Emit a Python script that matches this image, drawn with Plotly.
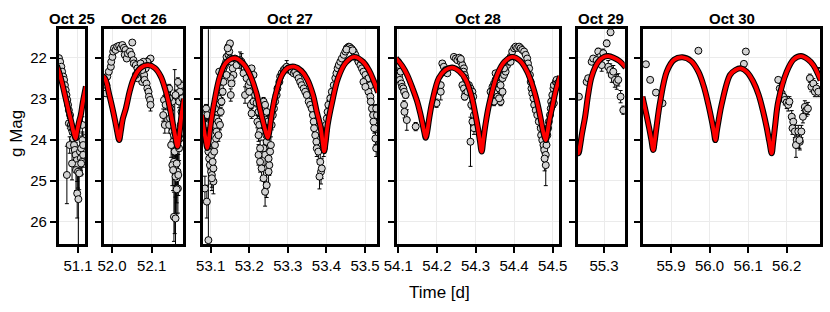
import plotly.graph_objects as go

# ---------------- data ----------------
panel_titles = ["Oct 25", "Oct 26", "Oct 27", "Oct 28", "Oct 29", "Oct 30"]

# Oct 25
t_oct25 = [51.052, 51.055, 51.058, 51.060, 51.063, 51.065, 51.067, 51.069, 51.071, 51.073,
           51.075, 51.077, 51.080, 51.077, 51.082, 51.083, 51.086, 51.079, 51.088, 51.090,
           51.092, 51.094, 51.097, 51.098, 51.095, 51.100, 51.103, 51.105, 51.108, 51.111,
           51.107, 51.110, 51.098, 51.101, 51.072, 51.085, 51.108, 51.111, 51.113, 51.113]
mag_oct25 = [22.01, 22.10, 22.22, 22.34, 22.46, 22.54, 22.67, 22.79, 22.91, 23.03,
             23.15, 23.28, 23.40, 23.60, 23.64, 23.72, 23.80, 24.13, 23.97, 24.13,
             24.25, 24.37, 24.50, 24.62, 24.74, 24.78, 24.82, 24.29, 24.21, 24.01,
             24.45, 24.54, 25.31, 25.45, 24.86, 24.58, 24.58, 23.64, 24.13, 24.37]
err_oct25 = [0.05, 0.05, 0.05, 0.05, 0.06, 0.06, 0.06, 0.07, 0.07, 0.08,
             0.08, 0.10, 0.10, 0.12, 0.12, 0.15, 0.15, 0.20, 0.20, 0.20,
             0.25, 0.30, 0.30, 0.40, 0.50, 0.40, 0.40, 0.30, 0.30, 0.20,
             0.30, 0.30, 0.60, 1.20, 0.70, 0.40, 0.30, 0.20, 0.25, 0.30]

# Oct 26
t_oct26 = [51.985, 51.986, 51.988, 51.992, 51.997, 51.998, 52.001, 52.003, 52.005, 52.009,
           52.013, 52.018, 52.022, 52.026, 52.030, 52.034, 52.032, 52.037, 52.040, 52.045,
           52.051, 52.049, 52.054, 52.055, 52.060, 52.064, 52.068, 52.071, 52.074, 52.076,
           52.081, 52.082, 52.085, 52.087, 52.089, 52.092, 52.093, 52.096, 52.097, 52.093,
           52.097, 52.089, 52.079, 52.072, 52.064, 52.060, 52.076,
           52.131, 52.135, 52.129, 52.133, 52.139, 52.144, 52.148, 52.146, 52.152, 52.156,
           52.154, 52.158, 52.160, 52.165, 52.163, 52.166, 52.169, 52.171, 52.173, 52.175,
           52.169, 52.171, 52.173, 52.166, 52.160, 52.152, 52.144, 52.149, 52.156, 52.152,
           52.154, 52.160, 52.156, 52.160, 52.144, 52.177, 52.163, 52.167, 52.163]
mag_oct26 = [22.87, 22.67, 22.46, 22.34, 22.22, 22.10, 21.98, 21.85, 21.77, 21.81,
             21.73, 21.71, 21.77, 21.69, 21.76, 21.81, 21.93, 22.02, 21.90, 21.85,
             21.63, 21.93, 22.06, 22.14, 22.18, 22.26, 22.34, 22.42, 22.50, 22.59,
             22.42, 22.54, 22.26, 22.63, 22.75, 22.83, 22.95, 23.03, 23.15, 22.06,
             22.02, 22.10, 22.10, 22.14, 22.50, 22.42, 22.30,
             23.03, 23.15, 23.40, 23.64, 22.91, 22.75, 23.24, 23.48, 23.80, 23.89,
             24.05, 24.29, 24.62, 24.78, 24.94, 25.19, 24.21, 23.97, 23.64, 23.32,
             23.07, 22.83, 22.67, 22.59, 22.91, 23.07, 23.64, 24.13, 24.54, 24.62,
             24.74, 24.90, 25.88, 25.92, 22.99, 22.99, 24.58, 24.86, 25.21]
err_oct26 = [0.06, 0.05, 0.05, 0.05, 0.05, 0.05, 0.05, 0.05, 0.05, 0.05,
             0.05, 0.05, 0.05, 0.05, 0.05, 0.05, 0.05, 0.05, 0.05, 0.05,
             0.05, 0.05, 0.05, 0.05, 0.05, 0.05, 0.05, 0.05, 0.06, 0.06,
             0.06, 0.06, 0.05, 0.06, 0.07, 0.07, 0.08, 0.10, 0.15, 0.05,
             0.05, 0.05, 0.05, 0.05, 0.05, 0.05, 0.05,
             0.10, 0.12, 0.15, 0.20, 0.10, 0.10, 0.15, 0.20, 0.25, 0.25,
             0.30, 2.00, 0.50, 0.50, 0.60, 0.60, 0.30, 0.30, 0.25, 0.20,
             0.15, 0.12, 0.10, 0.10, 0.12, 0.15, 0.20, 0.30, 0.40, 0.50,
             0.50, 0.50, 0.60, 0.80, 0.10, 0.10, 0.40, 0.50, 0.60]

# Oct 27
t_oct27 = [53.085, 53.090, 53.094, 53.085, 53.088, 53.090, 53.091, 53.094, 53.096, 53.098,
           53.101, 53.103, 53.107, 53.105, 53.103, 53.109, 53.111, 53.114, 53.115, 53.111,
           53.114, 53.117, 53.115, 53.120, 53.122, 53.124, 53.126, 53.128, 53.122, 53.133,
           53.137, 53.140, 53.141, 53.146, 53.148, 53.150, 53.154, 53.157, 53.159, 53.152,
           53.154, 53.152, 53.146, 53.150, 53.144, 53.141, 53.133, 53.131, 53.128, 53.126,
           53.120, 53.107, 53.103, 53.088, 53.091, 53.111, 53.120, 53.124,
           53.163, 53.167, 53.176, 53.180, 53.185, 53.189, 53.193, 53.198, 53.202, 53.206,
           53.211, 53.200, 53.204, 53.206, 53.211, 53.215, 53.219, 53.224, 53.221, 53.226,
           53.228, 53.224, 53.232, 53.237, 53.241, 53.245, 53.248, 53.250, 53.244, 53.245,
           53.237, 53.241, 53.228, 53.232, 53.237, 53.241, 53.245, 53.250, 53.252, 53.254,
           53.256, 53.250, 53.228, 53.224,
           53.258, 53.261, 53.264, 53.267, 53.271, 53.273, 53.278, 53.280, 53.284, 53.289,
           53.293, 53.297, 53.302, 53.306, 53.310, 53.315, 53.319, 53.323, 53.328, 53.332,
           53.336, 53.341, 53.345, 53.349, 53.354, 53.358, 53.362, 53.365, 53.367, 53.368,
           53.371, 53.374, 53.375, 53.379, 53.384, 53.386, 53.382, 53.388, 53.393, 53.394,
           53.397, 53.399, 53.401, 53.403, 53.405, 53.410, 53.414, 53.419, 53.423, 53.426,
           53.429, 53.432, 53.436, 53.440, 53.445, 53.449, 53.453, 53.458, 53.462, 53.466,
           53.471, 53.475, 53.479, 53.483, 53.488, 53.492, 53.496, 53.501, 53.503, 53.505,
           53.509, 53.514, 53.515, 53.518, 53.521, 53.522, 53.524, 53.527, 53.529, 53.531,
           53.529, 53.514, 53.509, 53.496, 53.501, 53.456, 53.460, 53.464, 53.452, 53.468]
mag_oct27 = [25.19, 25.51, 26.45, 23.40, 23.64, 23.80, 24.05, 24.29, 24.46, 24.62,
             24.78, 24.86, 24.70, 24.54, 24.37, 24.29, 24.13, 23.97, 23.80, 23.64,
             23.48, 23.32, 23.15, 22.99, 22.83, 22.71, 22.59, 22.46, 22.34, 22.26,
             22.18, 22.10, 21.98, 21.93, 21.85, 22.02, 22.10, 22.26, 22.42, 22.50,
             22.63, 22.91, 21.73, 21.65, 21.77, 22.42, 22.59, 22.83, 23.07, 23.32,
             23.56, 25.02, 24.94, 23.24, 23.40, 23.24, 23.89, 23.64,
             22.02, 22.18, 22.06, 22.10, 22.38, 22.91, 22.50, 22.67, 22.59, 22.26,
             22.42, 22.83, 23.15, 23.36, 23.07, 22.91, 23.10, 23.32, 23.56, 23.64,
             23.80, 23.89, 23.24, 23.07, 23.15, 23.32, 23.56, 23.72, 23.89, 24.05,
             24.21, 24.37, 24.54, 24.70, 24.94, 25.27, 25.11, 24.78, 24.62, 24.29,
             24.13, 24.46, 24.21, 24.37,
             23.64, 23.40, 23.24, 23.07, 22.91, 22.75, 22.59, 22.46, 22.38, 22.30,
             22.26, 22.22, 22.26, 22.30, 22.34, 22.38, 22.34, 22.42, 22.50, 22.59,
             22.67, 22.75, 22.83, 22.91, 23.07, 23.15, 23.24, 23.40, 23.56, 23.72,
             23.89, 24.05, 24.21, 24.29, 24.54, 24.78, 24.90, 24.70, 24.21, 24.05,
             23.80, 23.64, 23.48, 23.32, 23.15, 22.99, 22.83, 22.67, 22.50, 22.38,
             22.26, 22.18, 22.10, 22.02, 21.93, 21.85, 21.77, 21.73, 21.76, 21.79,
             21.85, 21.93, 22.02, 22.10, 22.18, 22.26, 22.34, 22.42, 22.54, 22.67,
             22.83, 22.95, 23.07, 23.24, 23.40, 23.56, 23.72, 23.97, 24.21, 23.40,
             23.24, 22.67, 22.50, 22.59, 22.71, 21.75, 21.74, 21.78, 21.80, 21.82]
err_oct27 = [0.30, 0.40, 5.20, 0.12, 0.12, 0.15, 0.20, 0.20, 0.25, 0.30,
             0.30, 0.30, 0.30, 0.25, 0.20, 0.20, 0.20, 0.15, 0.15, 0.12,
             0.12, 0.10, 0.08, 0.08, 0.08, 0.07, 0.06, 0.06, 0.05, 0.05,
             0.05, 0.05, 0.05, 0.05, 0.05, 0.05, 0.05, 0.05, 0.15, 0.06,
             0.07, 0.15, 0.05, 0.05, 0.05, 0.06, 0.06, 0.08, 0.10, 0.10,
             0.12, 0.30, 0.30, 0.10, 0.12, 0.10, 0.15, 0.12,
             0.05, 0.05, 0.20, 0.20, 0.06, 0.20, 0.06, 0.06, 0.06, 0.05,
             0.06, 0.08, 0.10, 0.12, 0.10, 0.08, 0.10, 0.12, 0.15, 0.15,
             0.15, 0.15, 0.10, 0.10, 0.10, 0.12, 0.15, 0.15, 0.15, 0.20,
             0.20, 0.25, 0.25, 0.30, 0.30, 0.35, 0.30, 0.30, 0.25, 0.20,
             0.20, 0.25, 0.20, 0.25,
             0.12, 0.10, 0.10, 0.08, 0.08, 0.07, 0.06, 0.05, 0.05, 0.05,
             0.05, 0.15, 0.05, 0.05, 0.05, 0.05, 0.05, 0.05, 0.05, 0.05,
             0.06, 0.06, 0.06, 0.07, 0.08, 0.08, 0.10, 0.10, 0.12, 0.12,
             0.15, 0.15, 0.20, 0.20, 0.25, 0.30, 0.30, 0.25, 0.20, 0.15,
             0.15, 0.12, 0.12, 0.10, 0.10, 0.08, 0.07, 0.06, 0.05, 0.05,
             0.05, 0.05, 0.05, 0.05, 0.05, 0.05, 0.05, 0.05, 0.05, 0.05,
             0.05, 0.05, 0.05, 0.05, 0.05, 0.05, 0.05, 0.05, 0.05, 0.06,
             0.07, 0.08, 0.08, 0.10, 0.10, 0.12, 0.12, 0.15, 0.20, 0.10,
             0.10, 0.06, 0.05, 0.05, 0.06, 0.05, 0.05, 0.05, 0.05, 0.05]

# Oct 28
t_oct28 = [54.0975, 54.099, 54.102, 54.104, 54.108, 54.110, 54.113, 54.115, 54.119, 54.115,
           54.116, 54.122, 54.145, 54.099, 54.102, 54.106,
           54.199, 54.205, 54.210, 54.214, 54.218, 54.223, 54.227, 54.210, 54.244, 54.249,
           54.253, 54.262, 54.266, 54.270, 54.269, 54.272, 54.274, 54.266, 54.270, 54.274,
           54.272, 54.279, 54.283, 54.287, 54.292, 54.294, 54.289, 54.296, 54.292, 54.287,
           54.296, 54.258, 54.262,
           54.339, 54.344, 54.348, 54.352, 54.357, 54.361, 54.364, 54.365, 54.370, 54.374,
           54.378, 54.382, 54.387, 54.391, 54.395, 54.400, 54.404, 54.408, 54.413, 54.417,
           54.421, 54.426, 54.430, 54.434, 54.436, 54.439, 54.441, 54.443, 54.445, 54.447,
           54.450, 54.452, 54.456, 54.460, 54.464, 54.469, 54.470, 54.473, 54.476, 54.478,
           54.482, 54.482, 54.479, 54.484, 54.486, 54.488, 54.490, 54.493, 54.495, 54.496,
           54.499, 54.502, 54.503, 54.508, 54.510, 54.512, 54.499, 54.503, 54.391, 54.374,
           54.365, 54.357, 54.352, 54.348, 54.361, 54.370]
mag_oct28 = [22.26, 22.38, 22.46, 22.54, 22.63, 22.71, 22.75, 22.83, 22.91, 23.15,
             23.32, 23.52, 23.68, 22.10, 22.18, 22.34,
             23.11, 22.75, 22.67, 22.14, 22.22, 22.30, 22.38, 22.83, 21.98, 22.02,
             22.06, 22.10, 22.18, 22.26, 22.34, 22.42, 22.50, 22.67, 22.75, 22.87,
             22.95, 22.83, 22.67, 22.75, 22.83, 22.95, 23.15, 23.40, 23.56, 24.05,
             23.72, 22.00, 22.03,
             22.83, 22.71, 22.63, 22.54, 22.63, 22.75, 22.91, 22.67, 22.50, 22.42,
             22.34, 22.18, 22.10, 21.98, 21.85, 21.77, 21.73, 21.76, 21.73, 21.77,
             21.81, 21.85, 21.93, 22.02, 22.14, 22.26, 22.42, 22.59, 22.75, 22.87,
             22.99, 23.15, 23.28, 23.40, 23.56, 23.72, 23.89, 24.01, 24.13, 24.25,
             24.37, 24.62, 24.46, 24.13, 23.89, 23.72, 23.56, 23.40, 23.24, 23.07,
             22.91, 22.75, 22.67, 22.59, 22.54, 22.63, 23.15, 23.11, 22.10, 22.26,
             23.07, 22.95, 22.38, 23.07, 22.99, 22.83]
err_oct28 = [0.05, 0.05, 0.05, 0.06, 0.06, 0.07, 0.07, 0.08, 0.08, 0.10,
             0.15, 0.25, 0.10, 0.05, 0.05, 0.05,
             0.10, 0.08, 0.07, 0.05, 0.05, 0.05, 0.05, 0.20, 0.05, 0.05,
             0.05, 0.05, 0.05, 0.05, 0.05, 0.05, 0.06, 0.07, 0.07, 0.08,
             0.08, 0.07, 0.07, 0.07, 0.08, 0.08, 0.10, 0.12, 0.15, 0.60,
             0.15, 0.05, 0.05,
             0.08, 0.07, 0.06, 0.06, 0.06, 0.07, 0.08, 0.06, 0.05, 0.05,
             0.05, 0.05, 0.05, 0.05, 0.05, 0.05, 0.05, 0.05, 0.05, 0.05,
             0.05, 0.05, 0.05, 0.05, 0.05, 0.05, 0.05, 0.06, 0.07, 0.08,
             0.08, 0.10, 0.10, 0.12, 0.12, 0.15, 0.15, 0.20, 0.20, 0.25,
             0.25, 0.50, 0.30, 0.20, 0.15, 0.15, 0.12, 0.12, 0.10, 0.08,
             0.08, 0.07, 0.06, 0.06, 0.06, 0.06, 0.10, 0.10, 0.05, 0.05,
             0.10, 0.08, 0.05, 0.10, 0.08, 0.07]

# Oct 29
t_oct29 = [55.235, 55.255, 55.259, 55.268, 55.272, 55.285, 55.290, 55.298, 55.307, 55.317,
           55.311, 55.316, 55.320, 55.324, 55.328, 55.333, 55.337, 55.343, 55.350, 55.294,
           55.281]
mag_oct29 = [22.95, 22.59, 22.50, 22.10, 22.02, 21.85, 21.98, 21.89, 21.65, 21.38,
             22.22, 22.30, 22.42, 22.34, 22.54, 22.59, 22.54, 22.95, 23.28, 22.18,
             22.06]
err_oct29 = [0.05, 0.05, 0.05, 0.06, 0.06, 0.08, 0.10, 0.10, 0.08, 0.08,
             0.15, 0.15, 0.18, 0.15, 0.18, 0.18, 0.15, 0.15, 0.10, 0.15,
             0.08]

# Oct 30
t_oct30 = [55.835, 55.846, 55.861, 55.878, 55.971, 56.094, 56.089,
           56.178, 56.182, 56.187, 56.191, 56.195, 56.200, 56.204, 56.207, 56.213,
           56.217, 56.215, 56.221, 56.226, 56.230, 56.234, 56.238, 56.242, 56.247,
           56.251, 56.255, 56.260, 56.264, 56.269, 56.273, 56.277, 56.282, 56.286,
           56.224, 56.233]
mag_oct30 = [22.16, 22.54, 22.85, 23.11, 21.83, 21.85, 22.15,
             22.54, 22.75, 22.87, 22.95, 23.03, 23.09, 23.15, 23.07, 23.44,
             23.56, 23.72, 23.80, 24.01, 23.80, 24.05, 23.80, 23.44, 23.20,
             23.28, 23.24, 22.50, 22.71, 22.63, 22.83, 22.75, 22.83, 22.34,
             24.13, 24.01]
err_oct30 = [0.05, 0.05, 0.05, 0.05, 0.05, 0.05, 0.05,
             0.05, 0.12, 0.12, 0.12, 0.12, 0.15, 0.15, 0.12, 0.15,
             0.15, 0.15, 0.15, 0.20, 0.15, 0.20, 0.15, 0.15, 0.15,
             0.15, 0.15, 0.10, 0.12, 0.12, 0.12, 0.12, 0.12, 0.10,
             0.30, 0.20]

# model curves
model_t_oct25 = [51.047, 51.052, 51.060, 51.069, 51.077, 51.083, 51.088, 51.094, 51.098,
                 51.103, 51.107, 51.112, 51.120]
model_mag_oct25 = [22.20, 22.34, 22.62, 22.99, 23.32, 23.56, 23.78, 23.97, 23.78,
                   23.55, 23.40, 23.10, 22.70]

model_t_oct26 = [51.978, 51.984, 51.993, 52.001, 52.008, 52.013, 52.018, 52.022, 52.027,
                 52.035, 52.045, 52.055, 52.072, 52.091, 52.108, 52.123, 52.135, 52.144,
                 52.152, 52.158, 52.165, 52.170, 52.175, 52.181]
model_mag_oct26 = [22.45, 22.54, 22.90, 23.23, 23.55, 23.80, 24.01, 23.80, 23.50,
                   23.23, 22.80, 22.50, 22.25, 22.18, 22.25, 22.46, 22.80, 23.15,
                   23.55, 23.85, 24.17, 23.85, 23.40, 23.00]

model_t_oct27 = [53.077, 53.082, 53.087, 53.091, 53.095, 53.100, 53.110, 53.124, 53.140,
                 53.163, 53.185, 53.202, 53.218, 53.229, 53.239, 53.244, 53.248, 53.252,
                 53.257, 53.267, 53.284, 53.300, 53.317, 53.335, 53.350, 53.365, 53.375,
                 53.385, 53.390, 53.394, 53.398, 53.403, 53.414, 53.430, 53.450, 53.472,
                 53.495, 53.510, 53.522, 53.534]
model_mag_oct27 = [23.40, 23.72, 24.00, 24.20, 24.00, 23.62, 23.05, 22.45, 22.12,
                   22.01, 22.15, 22.42, 22.85, 23.30, 23.68, 23.85, 23.95, 23.80,
                   23.45, 22.95, 22.43, 22.25, 22.22, 22.32, 22.52, 22.90, 23.32,
                   23.70, 24.05, 24.28, 24.05, 23.65, 23.12, 22.50, 22.12, 21.98,
                   22.10, 22.30, 22.55, 22.85]

model_t_oct28 = [54.094, 54.110, 54.123, 54.137, 54.149, 54.158, 54.163, 54.167, 54.171,
                 54.175, 54.180, 54.188, 54.205, 54.222, 54.240, 54.258, 54.275, 54.290,
                 54.299, 54.306, 54.311, 54.316, 54.320, 54.325, 54.335, 54.356, 54.375,
                 54.395, 54.415, 54.434, 54.450, 54.460, 54.468, 54.474, 54.478, 54.482,
                 54.486, 54.491, 54.499, 54.508, 54.519]
model_mag_oct28 = [22.01, 22.20, 22.42, 22.75, 23.07, 23.40, 23.62, 23.80, 23.95,
                   23.80, 23.48, 23.07, 22.50, 22.30, 22.24, 22.33, 22.54, 22.95,
                   23.35, 23.70, 24.00, 24.29, 24.02, 23.68, 23.15, 22.42, 22.10,
                   21.98, 22.07, 22.34, 22.75, 23.10, 23.45, 23.75, 23.90, 24.01,
                   23.85, 23.55, 23.19, 22.80, 22.45]

model_t_oct29 = [55.230, 55.234, 55.238, 55.243, 55.251, 55.259, 55.268, 55.285, 55.300,
                 55.311, 55.325, 55.340, 55.356]
model_mag_oct29 = [24.25, 24.33, 24.15, 23.85, 23.44, 22.90, 22.46, 22.10, 21.98,
                   21.96, 22.00, 22.08, 22.24]

model_t_oct30 = [55.826, 55.833, 55.843, 55.849, 55.854, 55.858, 55.863, 55.872, 55.889,
                 55.908, 55.930, 55.952, 55.971, 55.985, 55.997, 56.006, 56.011, 56.015,
                 56.019, 56.024, 56.031, 56.053, 56.067, 56.081, 56.097, 56.113, 56.127,
                 56.139, 56.148, 56.155, 56.161, 56.165, 56.170, 56.178, 56.200, 56.218,
                 56.237, 56.255, 56.269, 56.288]
model_mag_oct30 = [22.95, 23.25, 23.70, 24.00, 24.25, 24.02, 23.65, 23.07, 22.34,
                   22.05, 21.99, 22.08, 22.34, 22.70, 23.15, 23.55, 23.80, 24.01,
                   23.78, 23.50, 23.15, 22.42, 22.30, 22.26, 22.35, 22.58, 22.90,
                   23.32, 23.70, 24.05, 24.33, 24.05, 23.65, 23.07, 22.34, 22.04,
                   21.96, 22.04, 22.18, 22.55]

y_tickvals = [22, 23, 24, 25, 26]

# ---------------- layout / drawing ----------------
W, H = 830, 312
obs = [(t_oct25, mag_oct25, err_oct25), (t_oct26, mag_oct26, err_oct26),
       (t_oct27, mag_oct27, err_oct27), (t_oct28, mag_oct28, err_oct28),
       (t_oct29, mag_oct29, err_oct29), (t_oct30, mag_oct30, err_oct30)]
models = [(model_t_oct25, model_mag_oct25), (model_t_oct26, model_mag_oct26),
          (model_t_oct27, model_mag_oct27), (model_t_oct28, model_mag_oct28),
          (model_t_oct29, model_mag_oct29), (model_t_oct30, model_mag_oct30)]

panel_px = [(58.7, 85.3), (104.0, 183.3), (202.8, 377.3), (396.8, 559.0),
            (577.8, 624.7), (643.0, 820.0)]
x_ranges = [(51.0514, 51.1184), (51.9798, 52.1796), (53.0795, 53.5319),
            (54.0961, 54.5163), (55.2321, 55.3536), (55.8274, 56.2863)]
y_top_px, y_bot_px = 29.3, 244.3
y_range = [26.551, 21.307]

FONT = "Liberation Sans, Arial, Helvetica, sans-serif"
fig = go.Figure()
layout = dict(
    width=W, height=H, margin=dict(l=0, r=0, t=0, b=0, autoexpand=False),
    paper_bgcolor="white", plot_bgcolor="white", showlegend=False,
    font=dict(family=FONT, size=15, color="black"),
)
annotations = []
ydom = [(H - y_bot_px) / H, (H - y_top_px) / H]

for i in range(6):
    n = "" if i == 0 else str(i + 1)
    xa, ya = "x" + n, "y" + n
    t, m, e = obs[i]
    fig.add_trace(go.Scatter(
        x=t, y=m, mode="markers", xaxis=xa, yaxis=ya,
        marker=dict(size=7, color="#d3d3d3", line=dict(color="black", width=1)),
        error_y=dict(type="data", array=e, color="black", thickness=1, width=2),
        cliponaxis=True))
    mt, mm = models[i]
    fig.add_trace(go.Scatter(x=mt, y=mm, mode="lines", xaxis=xa, yaxis=ya,
                             line=dict(color="black", width=6, shape="spline", smoothing=1.0)))
    fig.add_trace(go.Scatter(x=mt, y=mm, mode="lines", xaxis=xa, yaxis=ya,
                             line=dict(color="#ff0000", width=3.8, shape="spline", smoothing=1.0)))
    x0, x1 = panel_px[i]
    layout["xaxis" + n] = dict(
        domain=[x0 / W, x1 / W], range=list(x_ranges[i]), anchor=ya, automargin=False,
        dtick=0.1, tick0=0, tickformat=".1f", ticks="outside", ticklen=6,
        tickwidth=2, tickcolor="black", showline=True, mirror=True,
        linecolor="black", linewidth=2.5, showgrid=True, gridcolor="#ebebeb",
        gridwidth=1, zeroline=False, tickfont=dict(size=15, family=FONT))
    layout["yaxis" + n] = dict(
        domain=ydom, range=y_range, anchor=xa, tickvals=y_tickvals, automargin=False,
        ticks="outside", ticklen=6, tickwidth=2, tickcolor="black",
        showticklabels=(i == 0), showline=True, mirror=True, linecolor="black",
        linewidth=2.5, showgrid=True, gridcolor="#ebebeb", gridwidth=1,
        zeroline=False, tickfont=dict(size=15, family=FONT))
    annotations.append(dict(
        text="<b>" + panel_titles[i] + "</b>", xref="paper", yref="paper",
        x=(x0 + x1) / 2 / W, y=(H - 18) / H, xanchor="center", yanchor="middle",
        showarrow=False, font=dict(size=15, family=FONT, color="black")))

annotations.append(dict(text="Time [d]", xref="paper", yref="paper",
                        x=439 / W, y=(H - 292) / H, xanchor="center", yanchor="middle",
                        showarrow=False, font=dict(size=17, family=FONT, color="black")))
annotations.append(dict(text="g Mag", xref="paper", yref="paper",
                        x=16 / W, y=(H - 134) / H, xanchor="center", yanchor="middle",
                        textangle=-90, showarrow=False,
                        font=dict(size=17, family=FONT, color="black")))
layout["annotations"] = annotations
fig.update_layout(**layout)
fig.write_html("out.html", config={"displayModeBar": False},
               post_script="document.body.style.margin='0';document.body.style.overflow='hidden';")
